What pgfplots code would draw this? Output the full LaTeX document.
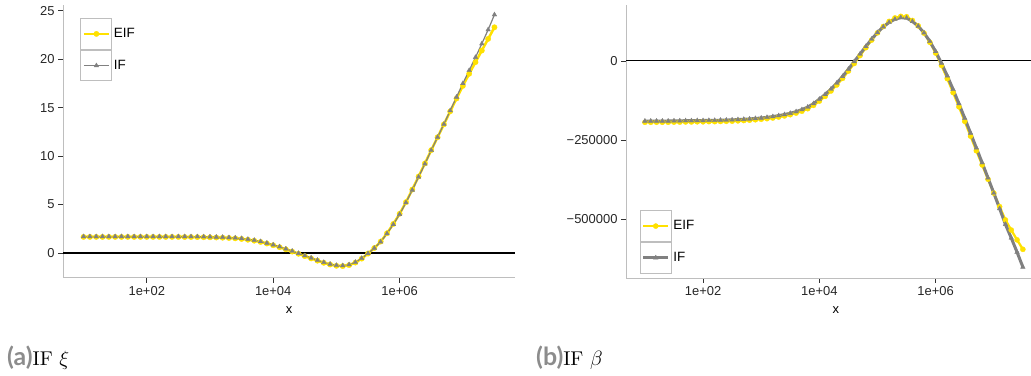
\documentclass[border=0pt]{standalone}
\usepackage{pgfplots}
\usepackage{pgfplotstable}
\pgfplotsset{compat=1.18}
\usepackage{fontspec}
\newfontfamily\lsans{Liberation Sans}
\newfontfamily\capsans{Lato}
\newfontfamily\capserif{lmroman10-regular.otf}
\definecolor{eif}{RGB}{255,225,0}
\definecolor{ifc}{RGB}{128,128,128}
\definecolor{axgray}{RGB}{190,190,190}

\pgfplotstableread{
x eif if
1e1 1.66 1.70
1.2589e1 1.66 1.70
1.5849e1 1.66 1.70
1.9953e1 1.66 1.70
2.5119e1 1.66 1.70
3.1623e1 1.66 1.70
3.9811e1 1.66 1.70
5.0119e1 1.66 1.70
6.3096e1 1.66 1.70
7.9433e1 1.66 1.70
1e2 1.66 1.70
1.2589e2 1.66 1.70
1.5849e2 1.66 1.70
1.9953e2 1.66 1.70
2.5119e2 1.66 1.70
3.1623e2 1.66 1.70
3.9811e2 1.65 1.70
5.0119e2 1.65 1.69
6.3096e2 1.64 1.69
7.9433e2 1.63 1.68
1e3 1.62 1.67
1.2589e3 1.60 1.65
1.5849e3 1.58 1.63
1.9953e3 1.55 1.60
2.5119e3 1.51 1.56
3.1623e3 1.45 1.50
3.9811e3 1.37 1.42
5.0119e3 1.27 1.32
6.3096e3 1.14 1.19
7.9433e3 0.98 1.03
1e4 0.80 0.85
1.2589e4 0.60 0.65
1.5849e4 0.38 0.43
1.9953e4 0.15 0.20
2.5119e4 -0.08 -0.03
3.1623e4 -0.32 -0.27
3.9811e4 -0.56 -0.51
5.0119e4 -0.79 -0.74
6.3096e4 -1.01 -0.96
7.9433e4 -1.19 -1.14
1e5 -1.32 -1.27
1.2589e5 -1.35 -1.30
1.5849e5 -1.25 -1.20
1.9953e5 -0.99 -0.95
2.5119e5 -0.58 -0.55
3.1623e5 -0.06 -0.05
3.9811e5 0.52 0.50
5.0119e5 1.18 1.15
6.3096e5 2.04 2.00
7.9433e5 3.00 2.95
1e6 4.05 4.00
1.2589e6 5.25 5.20
1.5849e6 6.55 6.50
1.9953e6 7.90 7.85
2.5119e6 9.25 9.20
3.1623e6 10.62 10.60
3.9811e6 11.95 11.95
5.0119e6 13.28 13.30
6.3096e6 14.62 14.70
7.9433e6 15.95 16.10
1e7 17.25 17.50
1.2589e7 18.50 18.85
1.5849e7 19.70 20.20
1.9953e7 20.90 21.60
2.5119e7 22.10 23.05
3.1623e7 23.30 24.60
}\xitable

\pgfplotstableread{
x eif if
1e1 -194000 -190000
1.2589e1 -194000 -190000
1.5849e1 -194000 -190000
1.9953e1 -194000 -190000
2.5119e1 -194000 -190000
3.1623e1 -193500 -189500
3.9811e1 -193500 -189500
5.0119e1 -193000 -189000
6.3096e1 -193000 -189000
7.9433e1 -192500 -188500
1e2 -192500 -188500
1.2589e2 -192000 -188000
1.5849e2 -192000 -188000
1.9953e2 -191500 -187500
2.5119e2 -191000 -187000
3.1623e2 -190500 -186500
3.9811e2 -189500 -185500
5.0119e2 -188500 -184500
6.3096e2 -187500 -183500
7.9433e2 -186000 -182000
1e3 -184500 -180500
1.2589e3 -182500 -178500
1.5849e3 -180500 -176000
1.9953e3 -177500 -173000
2.5119e3 -174000 -169500
3.1623e3 -170000 -165500
3.9811e3 -165000 -160500
5.0119e3 -159000 -154000
6.3096e3 -151000 -146000
7.9433e3 -140500 -135000
1e4 -127000 -121000
1.2589e4 -112000 -106000
1.5849e4 -95000 -89000
1.9953e4 -76000 -70000
2.5119e4 -55000 -49000
3.1623e4 -32000 -26000
3.9811e4 -8000 -2000
5.0119e4 17000 22000
6.3096e4 42000 46000
7.9433e4 66000 69000
1e5 89000 90000
1.2589e5 109000 108000
1.5849e5 125000 122000
1.9953e5 136000 132000
2.5119e5 141000 137000
3.1623e5 140000 136000
3.9811e5 128000 125000
5.0119e5 111000 110000
6.3096e5 88000 89000
7.9433e5 59000 62000
1e6 25000 30000
1.2589e6 -14000 -7000
1.5849e6 -56000 -47000
1.9953e6 -100000 -90000
2.5119e6 -145000 -135000
3.1623e6 -191000 -181000
3.9811e6 -238000 -228000
5.0119e6 -284000 -275000
6.3096e6 -329000 -322000
7.9433e6 -374000 -370000
1e7 -418000 -418000
1.2589e7 -461000 -467000
1.5849e7 -503000 -517000
1.9953e7 -535000 -560000
2.5119e7 -566000 -605000
3.1623e7 -596000 -652000
}\betatable

\begin{document}
\begin{tikzpicture}
\path[use as bounding box] (0,0) rectangle (1031bp,376bp);

\begin{axis}[
  xmode=log, xminorticks=false,
  scale only axis, anchor=south west, at={(63bp,98bp)}, width=452bp, height=273bp,
  xmin=4.73, xmax=6.68e7, ymin=-2.58, ymax=25.6,
  axis x line*=bottom, axis y line*=left,
  axis line style={axgray, line width=1bp, -},
  xtick={100,10000,1000000}, xticklabels={1e+02,1e+04,1e+06},
  ytick={0,5,10,15,20,25}, yticklabels={0,5,10,15,20,25},
  tick align=outside, major tick length=5bp,
  tick style={black!80, line width=0.8bp},
  ticklabel style={font=\lsans\fontsize{13}{15}\selectfont, text=black!85},
  xlabel={x},
  xlabel style={font=\lsans\fontsize{13}{15}\selectfont, anchor=center, at={(axis description cs:0.5,-0.117)}},
  legend cell align=left,
  legend style={at={(rel axis cs:0.0376,0.952)}, anchor=north west, draw=none, fill=none, inner sep=0pt,
    row sep=0.5bp, font=\lsans\fontsize{13.5}{16}\selectfont},
  legend image code/.code={
    \draw[axgray, line width=0.8bp, fill=white] (-3.3bp,-15.2bp) rectangle (27.7bp,15.2bp);
    \draw[mark repeat=2, mark phase=2, #1] plot coordinates {(0bp,0bp) (12.5bp,0bp) (25bp,0bp)};
  },
]
\addplot[black, line width=1.1bp, forget plot] coordinates {(4.73,0) (6.68e7,0)};
\addplot[eif, line width=2.5bp, mark=*, mark size=2.7bp,
  mark options={solid, fill=eif, draw=eif, line width=0.3bp}] table[x=x, y=eif] {\xitable};
\addlegendentry{EIF}
\addplot[ifc, line width=1.2bp, mark=triangle*, mark size=2.7bp,
  mark options={solid, fill=ifc, draw=ifc, line width=0.3bp}] table[x=x, y=if] {\xitable};
\addlegendentry{IF}
\end{axis}

\begin{axis}[
  xmode=log, xminorticks=false,
  scale only axis, anchor=south west, at={(626bp,98bp)}, width=405bp, height=273bp,
  xmin=4.73, xmax=4.365e7, ymin=-686700, ymax=177000,
  axis x line*=bottom, axis y line*=left,
  axis line style={axgray, line width=1bp, -},
  xtick={100,10000,1000000}, xticklabels={1e+02,1e+04,1e+06},
  ytick={-500000,-250000,0}, yticklabels={−500000,−250000,0},
  scaled y ticks=false,
  tick align=outside, major tick length=5bp,
  tick style={black!80, line width=0.8bp},
  ticklabel style={font=\lsans\fontsize{13}{15}\selectfont, text=black!85},
  xlabel={x},
  xlabel style={font=\lsans\fontsize{13}{15}\selectfont, anchor=center, at={(axis description cs:0.518,-0.117)}},
  legend cell align=left,
  legend style={at={(rel axis cs:0.033,0.248)}, anchor=north west, draw=none, fill=none, inner sep=0pt,
    row sep=0.5bp, font=\lsans\fontsize{13.5}{16}\selectfont},
  legend image code/.code={
    \draw[axgray, line width=0.8bp, fill=white] (-3.3bp,-15.2bp) rectangle (27.7bp,15.2bp);
    \draw[mark repeat=2, mark phase=2, #1] plot coordinates {(0bp,0bp) (12.5bp,0bp) (25bp,0bp)};
  },
]
\addplot[black, line width=1.1bp, forget plot] coordinates {(4.73,0) (4.365e7,0)};
\addplot[eif, line width=2.3bp, mark=*, mark size=2.6bp,
  mark options={solid, fill=eif, draw=eif, line width=0.3bp}] table[x=x, y=eif] {\betatable};
\addlegendentry{EIF}
\addplot[ifc, line width=3bp, mark=triangle*, mark size=2.7bp,
  mark options={solid, fill=ifc, draw=ifc, line width=0.3bp}] table[x=x, y=if] {\betatable};
\addlegendentry{IF}
\end{axis}

\node[anchor=base west, inner sep=0pt] at (7bp,11bp)
  {{\capsans\bfseries\fontsize{25}{28}\selectfont\color{black!45}(a)}{\capserif\fontsize{20}{23}\selectfont IF $\xi$}};
\node[anchor=base west, inner sep=0pt] at (536bp,11bp)
  {{\capsans\bfseries\fontsize{25}{28}\selectfont\color{black!45}(b)}{\capserif\fontsize{20}{23}\selectfont IF $\beta$}};
\end{tikzpicture}
\end{document}
